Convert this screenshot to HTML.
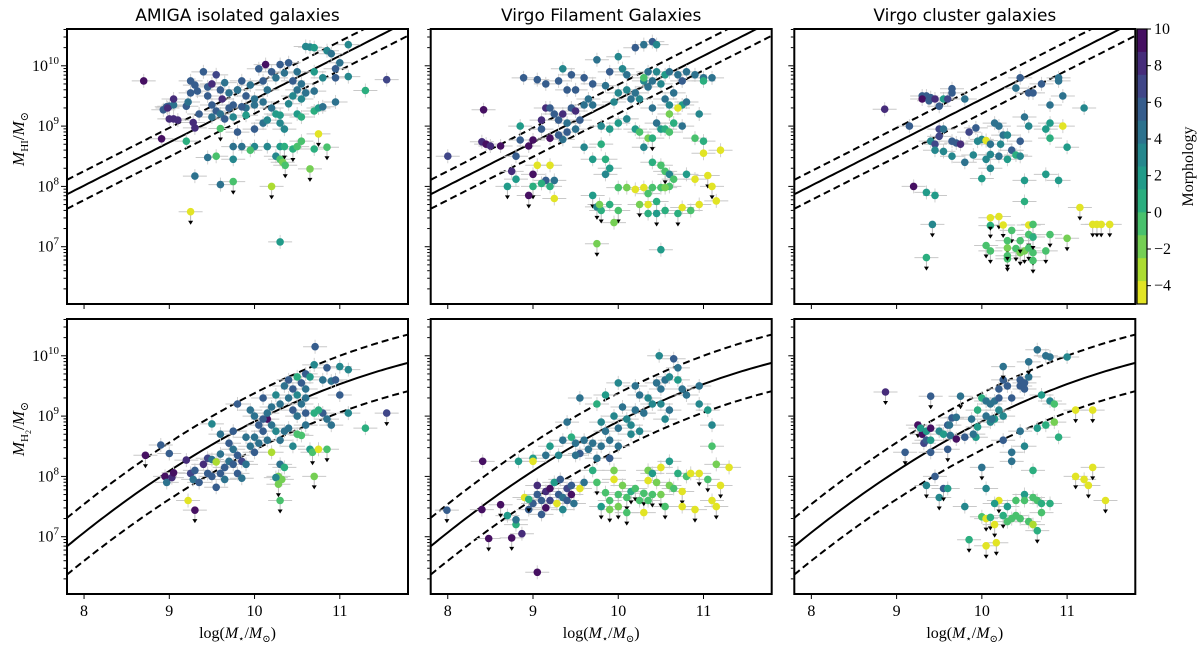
<!DOCTYPE html>
<html><head><meta charset="utf-8">
<style>
html,body{margin:0;padding:0;background:#fff;}
svg{display:block;}
.t{font-family:"DejaVu Sans","Liberation Sans",sans-serif;font-size:17px;}
.s{font-family:"Liberation Serif","DejaVu Serif",serif;}
</style></head>
<body>
<svg id="chart" width="1200" height="649" viewBox="0 0 1200 649" xmlns="http://www.w3.org/2000/svg"></svg>
<script>
// ---- data: [log M*, log M_gas, morphology T, upper-limit flag] ----
const panelTitles = ["AMIGA isolated galaxies","Virgo Filament Galaxies","Virgo cluster galaxies"];
const xTicks = [8,9,10,11];
const yTicks = [7,8,9,10];
const cbarTicks = [10,8,6,4,2,0,-2,-4];

const amigaHI = [[8.7,9.75,9],[8.91,8.79,9],[8.93,9.27,6],[8.97,9.32,6],[9.0,9.33,6],[9.05,9.35,5],[8.98,9.3,8],[9.05,9.45,8],[9.0,9.12,8],[9.05,9.12,8],[9.1,9.1,8],
[9.25,9.75,6],[9.3,9.68,6],[9.25,9.55,6],[9.2,9.33,6],[9.22,9.4,5],[9.28,9.06,8],[9.3,8.97,8],[9.33,9.58,6],[9.4,9.9,6],[9.45,9.5,6],[9.5,9.35,6],[9.5,9.15,5],[9.35,9.2,6],[9.45,9.65,6],[9.55,9.85,7],[9.6,9.6,6],[9.62,9.45,8],[9.65,9.72,5],[9.7,9.55,5],[9.75,9.35,6],[9.55,9.25,6],[9.6,9.2,5],[9.5,9.7,8],[9.8,9.6,6],[9.85,9.75,6],[9.9,9.5,6],[9.95,9.68,5],[10.0,9.45,5],[10.05,9.95,6],[10.1,9.75,6],[10.15,9.6,5],[10.2,9.9,6],[10.25,9.8,5],[10.3,10.02,6],[10.35,9.88,4],[10.4,10.05,6],[10.45,9.75,6],[10.5,9.9,5],[10.55,9.7,4],[10.6,9.55,5],[10.5,9.6,4],[10.45,9.5,3],[10.6,10.32,3],[10.65,10.31,3],[10.7,10.3,2],[10.85,10.25,3],[10.9,10.2,4],[10.95,9.95,6],[11.0,10.05,5],[10.8,9.8,3],[10.7,9.9,2],[11.1,10.35,3],[11.1,9.82,3],[10.95,9.8,6],[10.7,9.58,5],[10.55,9.45,3],[10.4,9.37,3],[10.2,9.3,4],[10.25,9.2,2],[10.1,9.4,5],[9.9,9.3,5],[9.8,9.6,4],[9.85,9.32,6],[9.7,9.3,6],[9.75,9.15,3],[9.9,9.18,2],[9.65,9.12,6],[9.8,8.9,6],[10.0,8.95,6],[10.1,9.05,5],[10.3,9.18,2],[10.3,9.05,3],[10.5,9.2,2],[10.55,9.15,1],[10.7,9.25,1],[10.75,9.3,2],[10.8,9.32,4],[10.95,9.4,4],[10.15,9.1,3],[10.0,9.35,4],[10.35,8.95,3],[10.13,10.02,9],
[9.2,8.75,1],[9.6,8.96,-1,1],[9.75,8.66,5],[9.85,8.66,5],[10.0,8.66,3],[10.15,8.66,3],[10.3,8.66,2],[10.35,8.66,1,1],[10.45,8.62,1,1],[10.5,8.66,0],[10.55,8.75,-1],[10.7,8.62,1],[10.75,8.87,-4,1],[10.85,8.65,0,1],[9.75,8.45,3],[9.95,8.6,0],[9.55,8.5,0],[9.45,8.48,5],[10.25,8.5,3],[10.3,8.45,-1],[10.33,8.4,-2],[10.36,8.35,-1,1],[10.65,8.29,-2,1],
[9.3,8.17,5],[9.6,8.03,5],[9.75,8.08,0,1],[10.2,8.0,-3,1],[9.25,7.58,-4,1],[10.3,7.08,2],[11.3,9.59,1],[11.55,9.77,7]];

const filHI = [[8.0,8.5,7],[8.4,8.74,8],[8.45,8.7,9],[8.5,8.67,8],[8.62,8.67,9],[8.42,9.27,9],[8.89,9.8,6],[9.05,9.77,6],[9.15,9.7,6],[9.3,9.75,6],[9.35,9.95,3],[9.45,9.85,6],[9.6,9.8,6],[9.7,9.7,6],[9.75,10.1,5],[9.5,9.6,6],[9.4,9.6,6],[9.15,9.3,8],[9.1,9.1,8],[9.1,8.95,6],[9.2,9.3,6],[9.25,9.2,6],[9.3,9.1,6],[9.35,9.2,8],[9.4,9.05,5],[9.45,9.3,6],[9.5,9.25,8],[9.55,9.1,6],[9.6,9.35,5],[9.65,9.45,5],[9.7,9.35,4],[9.5,8.95,5],[9.4,8.9,6],[9.35,8.78,5],[9.3,8.85,6],[9.2,8.8,9],[9.0,8.77,9],[8.95,8.67,9],[8.85,8.77,6],[8.8,8.5,6],[8.75,8.25,8],[9.0,8.2,9],[8.8,8.12,2],[8.7,8.0,2,1],[9.15,8.1,6],[9.05,8.35,-4],[9.2,8.35,-4],[9.25,8.1,4],[9.0,8.0,1,1],[8.95,7.85,9,1],[9.2,8.0,1],[9.25,7.8,-4],[9.1,8.05,1],[8.85,9.0,2],
[9.85,9.67,5],[9.9,9.9,6],[10.0,10.15,3],[10.05,9.95,3],[10.1,9.85,5],[10.2,10.3,6],[10.3,10.35,5],[10.4,10.4,6],[10.45,10.35,3],[10.35,9.9,4],[10.45,9.9,3],[10.3,9.75,3],[10.2,9.55,4],[10.1,9.6,3],[10.0,9.55,3],[9.95,9.4,3],[10.15,9.45,5],[10.25,9.45,3],[10.35,9.65,5],[10.4,9.75,4],[10.5,9.7,3],[10.55,9.85,2],[10.6,9.9,5],[10.7,9.85,5],[10.75,9.75,6],[10.8,9.9,5],[10.65,9.55,4],[10.55,9.45,5],[10.6,9.35,3,1],[10.75,9.35,2],[10.8,9.4,4],[10.9,9.85,5],[11.1,9.8,4],[11.0,9.8,5],[11.0,9.75,1],[10.3,9.8,0],[10.4,9.3,5],[10.6,9.2,-2],[10.7,9.3,-4],[10.95,9.2,3],[10.65,9.05,1],[10.5,8.95,2],
[9.8,9.0,3],[9.9,8.95,2],[10.0,9.05,2],[10.1,9.12,3],[10.2,8.95,2],[10.25,8.9,0],[10.35,8.8,-2],[10.3,8.65,3],[10.4,8.8,1,1],[10.45,9.05,4],[10.55,8.95,1],[10.6,8.9,-1],[10.75,9.0,5],[10.9,8.8,0],[11.0,8.75,1],[11.2,8.6,-4],[11.0,8.55,-4],[9.8,8.7,1],[9.6,8.65,3],[9.7,8.45,2],[9.85,8.45,1],[9.9,8.3,2],[9.85,8.2,3],[10.4,8.4,1],[10.5,8.35,-1],[10.55,8.25,0,1],[10.8,8.2,2],[10.6,8.2,3],[10.65,8.12,-1],[10.6,8.0,0],[10.9,8.12,-4],[11.05,8.18,-4,1],[11.1,8.0,-4,1],[11.15,7.76,-4],[10.75,7.65,-4],[10.55,7.6,1],
[9.7,7.85,2,1],[9.75,7.66,3,1],[9.9,7.7,1],[10.0,7.6,-1,1],[10.0,7.98,0],[10.1,7.98,-2],[10.2,7.95,-4],[10.25,7.7,-2,1],[10.3,7.98,-4],[10.35,7.88,-1],[10.4,7.98,-1],[10.35,7.7,-4,1],[10.45,7.75,1,1],[10.5,7.98,-1],[10.55,7.98,-2],[10.35,7.55,1],[10.45,7.55,2,1],[10.7,7.55,1,1],[10.85,7.6,-1],[10.95,7.7,-4],[9.8,7.6,1,1],[9.78,7.7,-2],[9.95,7.4,-2],[9.75,7.05,-2,1],[10.5,6.95,2]];

const clusHI = [[8.86,9.28,8],[9.3,9.5,6],[9.35,9.5,6],[9.3,9.45,9],[9.4,9.47,6],[9.38,9.42,6],[9.45,9.45,8],[9.55,9.45,2],[9.5,9.33,6],[9.6,9.45,7],[9.65,9.55,6],[9.65,9.62,6],[9.8,9.45,4],[9.15,9.0,6],[9.5,8.95,7],[9.5,8.83,7],[9.55,8.95,4],[9.4,8.75,3],[9.45,8.7,7],[9.45,8.6,3],[9.55,8.58,3],[9.65,8.75,6],[9.7,8.72,6],[9.75,8.7,8],[9.65,8.5,3],[9.8,8.4,5],[9.85,8.9,7],[9.93,8.97,6],[9.95,8.75,3],[9.9,8.52,3],[10.0,8.78,3],[10.05,8.76,-4],[10.1,8.7,5],[10.1,8.53,3],[10.2,8.5,5],[10.05,8.45,3],[10.1,8.3,3],[10.15,9.05,5],[10.2,9.0,4],[10.25,8.85,5],[10.22,8.7,3],[10.3,8.85,3],[10.35,8.6,6],[10.4,8.52,1],[10.45,8.5,3],[10.45,8.75,6],[10.5,9.15,5],[10.55,9.0,3],[10.45,9.8,6],[10.4,9.63,4],[10.55,9.55,6],[10.6,9.55,6],[10.7,9.7,6],[10.9,9.8,4],[10.9,9.75,4],[10.95,9.5,4],[10.8,9.35,4],[10.8,9.05,2],[10.75,8.95,2],[10.8,8.8,1],[10.95,9.0,-4],[11.0,8.65,2],[11.2,9.3,3],[10.3,8.45,2],[10.5,8.1,2],[10.0,8.13,2],[10.75,8.2,2],[10.9,8.1,2],[9.2,8.0,9],[9.35,7.9,2],[9.45,7.85,2],[10.5,7.75,1],
[9.42,7.37,3,1],[10.1,7.35,1,1],[10.2,7.5,-4,1],[10.1,7.48,-4,1],[10.25,7.36,-4,1],[10.55,7.36,-4,1],[10.6,7.37,0,1],[10.55,7.2,-1,1],[10.35,7.27,-1,1],[10.3,7.1,0,1],[10.05,7.02,-1,1],[10.1,6.93,0,1],[10.3,6.85,-1,1],[10.4,6.97,-1,1],[10.45,6.9,-2,1],[10.5,6.93,-2,1],[10.55,6.98,-1,1],[10.6,6.9,-1,1],[10.75,6.93,0,1],[10.8,7.2,0,1],[10.6,7.16,1,1],[11.0,7.14,-2,1],[9.35,6.82,1,1],[10.3,6.8,0,1],[10.3,6.98,-2,1],[10.6,6.77,-1,1],[10.45,7.1,0,1],[11.15,7.65,-4,1],[11.3,7.37,-4,1],[11.35,7.37,-4,1],[11.4,7.37,-4,1],[11.5,7.37,-4,1]];

const amigaH2 = [[8.72,8.35,9,1],[8.9,8.52,6],[8.95,8.0,9],[8.97,7.9,4],[9.0,8.38,6],[9.03,7.98,8],[9.05,8.06,9],[9.2,8.27,8],[9.22,7.6,-4],[9.25,8.05,7],[9.28,7.95,5],[9.3,8.1,6],[9.3,7.44,9,1],[9.35,7.9,6],[9.4,8.2,8],[9.45,8.05,6],[9.45,8.3,7],[9.5,8.28,5],[9.5,8.0,6],[9.55,8.24,-3],[9.55,7.82,6],[9.6,8.05,6],[9.6,8.37,5],[9.65,8.15,6],[9.65,7.95,5],[9.7,8.25,5],[9.7,8.55,6],[9.75,8.45,5],[9.75,8.2,6],[9.8,8.35,6],[9.8,8.05,6],[9.85,8.25,7],[9.85,7.97,5],[9.9,8.65,5],[9.9,8.2,5],[9.95,8.5,5],[10.0,8.4,6],[10.0,8.65,5],[10.05,8.85,6],[10.05,8.55,5],[10.1,8.75,6],[10.15,8.95,9],[10.1,8.95,6],[10.15,8.6,5],[10.2,8.85,5],[10.2,8.4,-3],[10.25,8.75,3],[10.3,8.6,5],[10.3,8.2,4],[10.28,8.0,-2],[10.32,7.95,-2],[10.35,8.15,1],[10.25,7.98,3],[10.28,7.87,-2,1],[10.3,7.6,-1,1],[10.35,8.75,5],[10.4,8.8,4],[10.45,9.1,6],[10.45,8.5,3],[10.5,8.7,-1],[10.5,9.0,5],[10.55,8.68,0],[10.6,9.05,6],[10.6,8.85,5],[10.65,8.45,2],[10.68,8.4,0,1],[10.7,8.0,-2,1],[10.7,9.05,1],[10.75,8.45,-4],[10.8,9.05,6],[10.85,8.45,-1,1],[10.85,8.95,4],[10.9,8.85,5],[11.1,9.05,3],[11.3,8.8,1],[11.55,9.05,7,1],
[10.55,9.2,5],[10.6,9.3,4],[10.5,9.35,3],[10.4,9.3,4],[10.3,9.2,5],[10.35,9.5,5],[10.45,9.45,6],[10.55,9.55,6],[10.71,10.15,6],[10.7,9.85,3],[10.85,9.8,6],[11.0,9.82,3],[11.1,9.77,3],[10.8,9.6,4],[10.9,9.58,4],[10.95,9.6,6],[11.0,9.35,6],[10.6,9.45,4],[10.25,9.35,3],[10.2,9.15,4],[10.15,9.05,5],[10.0,9.0,5],[10.4,9.6,6],[10.6,9.7,6],[10.65,9.65,2],[10.75,9.1,1],[10.5,9.65,1],[10.1,9.3,6],[9.95,9.1,5],[9.8,9.2,6],[9.5,8.87,3],[9.75,8.75,6],[9.6,8.7,5]];

const filH2 = [[7.99,7.44,6,1],[8.41,8.25,9],[8.4,7.45,9],[8.48,6.97,9,1],[8.75,6.98,9,1],[8.62,7.53,9,1],[8.7,7.35,2],[8.8,7.2,1],[8.8,7.28,5],[8.87,7.05,8],[8.83,8.25,2],[8.9,7.65,-4],[8.95,7.45,6],[9.0,7.55,6],[9.05,7.85,8],[9.05,7.7,6],[9.1,7.6,6],[9.15,7.75,8],[9.2,7.6,7],[9.15,7.48,9],[9.1,7.37,6],[9.05,6.41,9],[9.2,7.8,9],[9.25,7.9,2],[9.28,7.55,-4],[9.3,7.7,6],[9.32,7.95,6],[9.35,7.65,5],[9.35,7.45,3],[9.4,7.8,7],[9.4,7.6,6],[9.45,7.85,6],[9.45,7.7,9],[9.48,7.55,5],[9.55,7.8,-4],[9.6,7.9,5],[8.95,7.62,1,1],
[9.0,8.3,2],[9.15,8.35,4],[9.0,8.25,-4],[9.2,8.5,2],[9.35,8.6,4],[9.45,8.65,1],[9.4,8.9,5],[9.5,8.55,5],[9.55,8.38,6],[9.6,8.6,5],[9.65,8.45,5],[9.7,8.55,4],[9.7,8.1,1],[9.75,8.3,5],[9.8,8.5,5],[9.8,8.9,3],[9.85,8.75,4],[9.9,8.3,6],[9.9,8.6,4],[9.95,9.0,3],[10.0,8.8,4],[10.0,8.5,4],[10.05,9.15,4],[10.1,8.95,3],[10.15,8.85,3],[10.2,9.1,4],[10.2,9.5,4],[10.25,9.35,4],[10.3,9.05,4],[10.35,9.3,3],[10.4,9.2,3],[10.45,9.55,5],[10.5,9.45,4],[10.55,9.6,4],[10.6,9.65,3],[10.7,9.6,2],[10.5,9.2,3],[10.6,9.1,5],[10.55,8.95,3],[10.7,9.8,4],[10.75,9.45,4],[10.8,9.35,4],[10.95,9.2,3],[11.05,9.1,2],[10.95,9.5,4],[11.1,8.85,3],[11.1,8.5,-1],[10.25,8.75,3],[10.15,8.7,3],[9.3,8.35,3],[9.55,9.3,5],[9.75,9.2,1],[9.85,9.35,2],[10.48,10.0,3],[10.65,9.95,6],[10.0,9.55,3],[9.5,8.35,5],
[9.75,7.9,0,1],[9.8,7.5,2,1],[9.85,7.73,-1],[9.9,7.6,-1,1],[9.95,7.95,-4],[10.0,7.7,-1,1],[10.0,7.5,-2,1],[10.05,7.85,-2],[10.1,7.65,-1,1],[10.15,7.75,1,1],[10.2,7.8,-1,1],[10.25,7.6,-1],[10.3,7.72,-1,1],[10.35,7.93,-4],[10.4,7.7,-1,1],[10.45,7.9,-2],[10.5,7.7,-2,1],[10.55,7.5,-1,1],[10.6,7.85,-2],[10.65,7.8,0],[10.7,8.05,1],[10.75,7.75,-4,1],[10.8,8.0,-1],[10.85,8.05,-4],[10.95,8.05,-4,1],[11.05,7.95,-1,1],[11.15,8.2,-2],[11.2,7.85,-4,1],[11.1,7.6,-4],[11.15,7.5,-4,1],[11.3,8.15,-4],[10.75,7.5,-4],[10.3,7.4,-4],[10.35,7.6,-1],[9.9,7.45,-2,1],[10.1,7.4,-1,1],[9.95,8.1,-2],[10.35,8.1,-2],[10.5,8.15,-4],[10.9,7.45,-4,1],[10.6,8.25,2],[10.4,8.05,2]];

const clusH2 = [[8.87,9.4,8,1],[9.4,9.33,6,1],[9.75,9.33,4,1],[9.1,8.4,6,1],[9.25,8.85,9,1],[9.3,8.7,9],[9.32,8.55,7],[9.28,8.8,2],[9.35,8.75,2],[9.4,8.8,9],[9.35,8.6,6],[9.4,8.4,6],[9.4,8.6,2],[9.5,8.75,3],[9.55,8.7,2],[9.6,8.85,6],[9.65,8.97,6],[9.62,8.85,5],[9.7,8.98,4],[9.63,8.68,5],[9.7,8.62,9],[9.8,8.65,6],[9.6,8.45,6,1],[9.88,8.95,5],[9.93,8.65,2],[9.95,8.82,2],[9.9,8.7,4],[9.95,9.1,1],[10.0,9.3,1],[10.05,9.25,4],[10.1,9.2,5],[10.15,9.25,5],[10.2,9.3,6],[10.1,8.9,3],[10.15,8.95,2],[10.05,9.0,5],[10.12,8.95,4],[10.2,9.1,3],[10.25,9.0,3],[10.25,9.6,6],[10.25,9.82,4,1],[10.2,9.45,6],[10.3,9.5,6],[10.35,9.3,6],[10.45,9.5,6],[10.5,9.45,6],[10.45,9.6,6],[10.5,9.55,6],[10.55,9.65,5],[10.55,9.9,4,1],[10.65,10.1,5],[10.75,10.0,4],[10.8,9.98,4],[10.7,9.35,2],[10.8,9.25,3],[10.85,9.2,-1],[11.0,9.98,3],[10.35,8.25,5],[10.45,8.75,5],[10.5,8.5,3],[10.6,8.1,1],[10.65,8.8,2],[10.75,8.85,1],[10.85,8.9,-2],[10.9,8.65,1],[11.1,9.1,-4,1],[11.3,9.1,-4,1],[10.25,8.6,6],[10.35,8.4,5],[10.0,8.15,4,1],[9.45,8.0,6],[9.35,7.85,3,1],[9.5,7.65,3,1],[9.55,7.8,6,1],[9.6,7.8,2],[10.05,7.8,3],[10.2,7.6,-4,1],[10.15,7.55,2],[10.3,7.5,2],[10.4,7.6,-1],[10.5,7.7,2],[10.5,7.6,0],[10.6,7.65,0],[10.65,7.6,0],[10.7,7.55,1],[10.7,7.4,0],[10.8,7.55,1],[9.8,7.5,3],[10.0,7.33,-1],[10.05,7.3,-4,1],[10.1,7.32,1,1],[10.15,7.2,-4,1],[10.25,7.35,1,1],[10.3,7.25,0],[10.35,7.3,-1],[10.4,7.35,-1],[10.45,7.3,-1],[10.55,7.25,0],[10.6,7.2,-3],[10.65,7.1,1,1],[9.85,6.95,1,1],[10.05,6.85,-4,1],[10.17,6.9,-4,1],[11.1,8.0,-4,1],[11.2,7.95,-4],[11.25,7.85,-4,1],[11.45,7.6,-4,1],[11.3,8.15,-4,1]];

// relation parameters (model lines)
const hiRelation = {x0:7.8, y0:7.87, slope:0.717, scatter:0.24};
const h2Relation = {x0:10, y0:8.91, b:0.72, c:-0.1, scatter:0.47};

// ---- layout ----
const NS = "http://www.w3.org/2000/svg";
const svg = document.getElementById('chart');
const lefts = [67, 430.7, 794.3], W = 341;
const tops = [29, 319], H = 275;
const XMIN = 7.8, XMAX = 11.8, YMIN = 6.05, YMAX = 10.61;
function mk(tag, attrs, parent){ const e = document.createElementNS(NS, tag); for (const k in attrs) e.setAttribute(k, attrs[k]); (parent||svg).appendChild(e); return e; }

const vir = ["#440154","#482475","#414487","#355f8d","#2a788e","#21918c","#22a884","#44bf70","#7ad151","#bddf26","#fde725"];
function viridis(f){ f=Math.max(0,Math.min(1,f)); const p=f*10, i=Math.min(9,Math.floor(p)), r=p-i;
  const a=vir[i], b=vir[i+1]; const c=k=>Math.round(parseInt(a.substr(k,2),16)*(1-r)+parseInt(b.substr(k,2),16)*r);
  return "rgb("+c(1)+","+c(3)+","+c(5)+")"; }
function morphColor(t){ let bin=Math.floor((10-t)/1.25); bin=Math.max(0,Math.min(11,bin)); return viridis((bin+0.5)/12); }

function h2Curve(x){ const u=x-h2Relation.x0; return h2Relation.y0+h2Relation.b*u+h2Relation.c*u*u; }

const datasets = [[amigaHI, filHI, clusHI],[amigaH2, filH2, clusH2]];
const ids = ["amiga","filament","cluster"];

const defs = mk('defs',{});
for (let r=0;r<2;r++) for (let c=0;c<3;c++){
  const cp = mk('clipPath',{id:'cp'+r+c},defs);
  mk('rect',{x:lefts[c],y:tops[r],width:W,height:H},cp);
}

for (let c=0;c<3;c++){
  const tt = mk('text',{x:lefts[c]+W/2,y:21,'text-anchor':'middle',class:'t'});
  
  
  tt.textContent = panelTitles[c];
}

for (let r=0;r<2;r++) for (let c=0;c<3;c++){
  const L=lefts[c], T=tops[r];
  const xs = v => L + (v-XMIN)/(XMAX-XMIN)*W;
  const ys = v => T + (YMAX-v)/(YMAX-YMIN)*H;
  const g = mk('g',{});
  
  
  const gc = mk('g',{'clip-path':'url(#cp'+r+c+')'},g);
  for (const off of [0,1,-1]){
    let d='';
    for (let i=0;i<=80;i++){ const x=XMIN+(XMAX-XMIN)*i/80;
      const y = r===0 ? hiRelation.y0+hiRelation.slope*(x-hiRelation.x0)+off*hiRelation.scatter : h2Curve(x)+off*h2Relation.scatter;
      d += (i?'L':'M')+xs(x).toFixed(1)+','+ys(y).toFixed(1); }
    const ln = mk('path',{d:d,fill:'none',stroke:'#000','stroke-width':2,'stroke-dasharray':off?'7,4':'none'},gc);
    
    
  }
  const data = datasets[r][c];
  for (const p of data){
    const px=xs(p[0]), py=ys(p[1]);
    mk('line',{x1:px-12,x2:px+12,y1:py,y2:py,stroke:'#c8c8c8','stroke-width':1},gc);
    if (p[3]) mk('line',{x1:px,x2:px,y1:py,y2:py+10,stroke:'#b8b8b8','stroke-width':1},gc);
    else mk('line',{x1:px,x2:px,y1:py-7,y2:py+7,stroke:'#d0d0d0','stroke-width':1},gc);
  }
  for (const p of data){
    const px=xs(p[0]), py=ys(p[1]);
    if (p[3]){
      const tri = mk('path',{d:'M'+(px-2.5)+','+(py+9)+'L'+(px+2.5)+','+(py+9)+'L'+px+','+(py+13)+'Z',fill:'#000'},gc);
      
      
    }
    const dot = mk('circle',{cx:px.toFixed(1),cy:py.toFixed(1),r:3.8,fill:morphColor(p[2])},gc);
    
    
  }
  const fr = mk('rect',{x:L,y:T,width:W,height:H,fill:'none',stroke:'#000','stroke-width':2},g);
  
  
  for (const v of xTicks){
    mk('line',{x1:xs(v),x2:xs(v),y1:T+H+1,y2:T+H+5,stroke:'#000','stroke-width':1},g);
    if (r===1){ const tl = mk('text',{x:xs(v),y:T+H+22,'text-anchor':'middle',class:'s','font-size':16},g);
      
      
      tl.textContent=v; }
  }
  for (let dec=6; dec<=10; dec++){
    for (let m=1;m<10;m++){
      const v = dec+Math.log10(m); if (v<YMIN||v>YMAX) continue;
      const len = m===1?5:2.5;
      mk('line',{x1:L-1-len,x2:L-1,y1:ys(v),y2:ys(v),stroke:'#000','stroke-width':1},g);
    }
  }
  if (c===0){
    for (const v of yTicks){
      const tl = mk('text',{x:L-8,y:ys(v)+5,'text-anchor':'end',class:'s','font-size':16},g);
      
      
      tl.innerHTML = '10<tspan dy="-7" font-size="11">'+v+'</tspan>';
    }
    const yl = mk('text',{x:0,y:0,'text-anchor':'middle',class:'s','font-size':17,transform:'translate(24,'+(T+H*0.4)+') rotate(-90)'},g);
    
    
    yl.innerHTML = '<tspan font-style="italic">M</tspan><tspan font-size="11" dy="4">'+(r?'H':'HI')+'</tspan>'+(r?'<tspan font-size="8" dy="3">2</tspan><tspan dy="-7">/</tspan>':'<tspan dy="-4">/</tspan>')+'<tspan font-style="italic">M</tspan><tspan font-size="11" dy="4">⊙</tspan>';
  }
  if (r===1){
    const xl = mk('text',{x:L+W/2,y:638,'text-anchor':'middle',class:'s','font-size':16},g);
    
    
    xl.innerHTML = 'log(<tspan font-style="italic">M</tspan><tspan font-size="10" dy="4">⋆</tspan><tspan dy="-4">/</tspan><tspan font-style="italic">M</tspan><tspan font-size="10" dy="4">⊙</tspan><tspan dy="-4">)</tspan>';
  }
}

const CBX=1137, CBW=10, CBT=29, CBH=275;
const cb = mk('g',{});


for (let b=0;b<12;b++){
  mk('rect',{x:CBX,y:CBT+b*CBH/12,width:CBW,height:CBH/12+0.5,fill:viridis((b+0.5)/12)},cb);
}
mk('rect',{x:CBX,y:CBT,width:CBW,height:CBH,fill:'none',stroke:'#000','stroke-width':1.2},cb);
const cby = v => CBT + (10-v)/15*CBH;
for (const v of cbarTicks){
  mk('line',{x1:CBX+CBW,x2:CBX+CBW+4,y1:cby(v),y2:cby(v),stroke:'#000','stroke-width':1},cb);
  const tl = mk('text',{x:CBX+CBW+7,y:cby(v)+5,class:'s','font-size':16},cb);
  
  
  tl.textContent = v<0 ? '\u2212'+(-v) : v;
}
const cbl = mk('text',{x:0,y:0,'text-anchor':'middle',class:'s','font-size':16,transform:'translate(1193,'+(CBT+CBH/2)+') rotate(-90)'},cb);


cbl.textContent = 'Morphology';
</script>
</body></html>
